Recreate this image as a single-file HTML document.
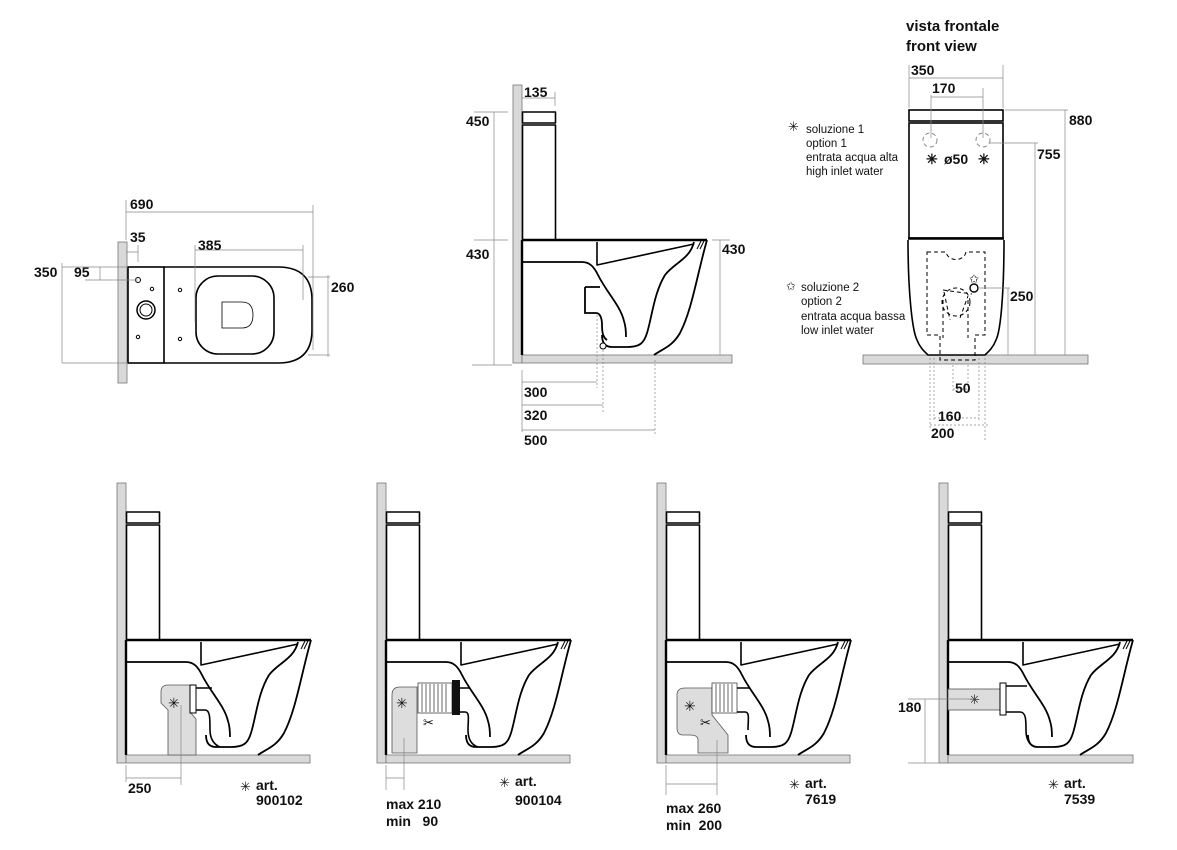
<!DOCTYPE html>
<html><head><meta charset="utf-8"><style>
html,body{margin:0;padding:0;background:#fff}
svg{display:block}
text{font-family:"Liberation Sans",Arial,sans-serif;font-weight:bold;font-size:14px;fill:#111}
.n{font-weight:normal;font-size:11.5px}
</style></head><body>
<svg width="1177" height="850" viewBox="0 0 1177 850" xmlns="http://www.w3.org/2000/svg">
<defs>
<g id="t" fill="none" stroke="#000" stroke-linejoin="round">
<rect x="0.5" y="-243" width="33" height="11" stroke-width="1.6" fill="#fff"/>
<rect x="0.5" y="-230" width="33" height="115" stroke-width="1.6" fill="#fff"/>
<line x1="0" y1="-115" x2="185" y2="-115" stroke-width="2.6"/>
<line x1="0" y1="-115" x2="0" y2="0" stroke-width="2.4"/>
<path d="M0,-93 L60,-93 C68,-93 72,-88 76,-80 C85,-62 98,-50 102,-34 C104,-28 104,-22 104,-18" stroke-width="1.8"/>
<path d="M75,-113 L75,-90 L172,-111" stroke-width="1.6"/>
<path d="M172,-113 C168,-96 152,-92 143,-80 C132,-62 130,-38 125,-22 C122,-12 118,-8 105,-8 L90,-8 C82,-8 80,-14 80,-20" stroke-width="1.8"/>
<path d="M185,-115 C175,-80 170,-45 158,-22 C150,-8 140,-6 132,0" stroke-width="1.8"/>
<path d="M179,-114 L175,-106 M182,-114 L178,-106" stroke-width="1"/>
</g>
</defs>

<!-- ============ top-left plan view ============ -->
<g>
<rect x="118" y="242" width="9" height="141" fill="#d9d9d9" stroke="#777" stroke-width="0.8"/>
<rect x="128" y="267" width="36" height="96" fill="#fff" stroke="#000" stroke-width="1.6"/>
<path d="M164,267 L278,267 Q312,267 312,300 L312,330 Q312,363 278,363 L164,363" fill="none" stroke="#000" stroke-width="1.6"/>
<rect x="196" y="276" width="78" height="78" rx="22" fill="none" stroke="#000" stroke-width="1.6"/>
<path d="M222,302 L242,302 Q253,302 253,315 Q253,328 242,328 L222,328 Z" fill="none" stroke="#000" stroke-width="0.8"/>
<circle cx="138" cy="280" r="2.5" fill="none" stroke="#000"/>
<circle cx="152" cy="289" r="1.7" fill="none" stroke="#000"/>
<circle cx="138" cy="337" r="1.7" fill="none" stroke="#000"/>
<circle cx="180" cy="290" r="1.7" fill="none" stroke="#000"/>
<circle cx="180" cy="339" r="1.7" fill="none" stroke="#000"/>
<circle cx="146" cy="310" r="9" fill="none" stroke="#000" stroke-width="1.5"/>
<circle cx="146" cy="310" r="6" fill="none" stroke="#000" stroke-width="1"/>
<g stroke="#888" stroke-width="0.7" fill="none">
<path d="M126,200 V240 M126,212 H313 M313,205 V350"/>
<path d="M138,245 V262 M126,252 H138"/>
<path d="M195,250 H303 M195,245 V322 M303,245 V300" />
<path d="M62,267 H128 M62,363 H128 M62,263 V363" />
<path d="M100,267 V280 M85,280 H138"/>
<path d="M308,277 H330 M308,355 H330 M328,275 V357"/>
</g>
<text x="130" y="209">690</text>
<text x="130" y="242">35</text>
<text x="198" y="250">385</text>
<text x="34" y="277">350</text>
<text x="74" y="277">95</text>
<text x="331" y="292">260</text>
</g>

<!-- ============ top middle side view ============ -->
<rect x="513" y="85" width="9" height="278" fill="#d9d9d9" stroke="#777" stroke-width="0.8"/>
<rect x="522" y="355" width="210" height="8" fill="#d9d9d9" stroke="#777" stroke-width="0.8"/>
<use href="#t" transform="translate(522,355)"/>
<path d="M585,287 L600,287 M585,287 L585,313 L596,313 C600,313 602,318 602,325 C602,335 604,338 607,340" fill="none" stroke="#000" stroke-width="1.8"/>
<circle cx="603" cy="346" r="3" fill="#fff" stroke="#000" stroke-width="1"/>
<g stroke="#888" stroke-width="0.7" fill="none">
<path d="M522,98 H555 M555,92 V106"/>
<path d="M474,112 H508 M494,112 V365 M474,240 H508 M472,365 H512"/>
<path d="M712,240 H730 M720,240 V355"/>
<path d="M522,370 V432 M522,382 H597 M522,405 H603 M522,430 H655"/>
<path d="M597,315 V388" stroke-dasharray="2,2"/>
<path d="M603,350 V412" stroke-dasharray="2,2"/>
<path d="M655,360 V436" stroke-dasharray="2,2"/>
</g>
<text x="524" y="97">135</text>
<text x="466" y="126">450</text>
<text x="466" y="259">430</text>
<text x="722" y="254">430</text>
<text x="524" y="397">300</text>
<text x="524" y="420">320</text>
<text x="524" y="445">500</text>

<!-- ============ front view ============ -->
<text x="906" y="31" style="font-size:15px">vista frontale</text>
<text x="906" y="51" style="font-size:15px">front view</text>
<rect x="863" y="355" width="225" height="9" fill="#d9d9d9" stroke="#777" stroke-width="0.8"/>
<rect x="909" y="110" width="94" height="11" fill="#fff" stroke="#000" stroke-width="1.6"/>
<rect x="909" y="123" width="94" height="115" fill="#fff" stroke="#000" stroke-width="1.6"/>
<line x1="908" y1="238.5" x2="1004" y2="238.5" stroke="#000" stroke-width="2.5"/>
<path d="M908,240 C908,290 912,330 917,340 C920,348 925,352 928,355 L985,355 C988,352 993,348 996,340 C1001,330 1004,290 1004,240" fill="none" stroke="#000" stroke-width="1.6"/>
<g fill="none" stroke="#000" stroke-width="1" stroke-dasharray="4,3">
<circle cx="930" cy="140" r="7" stroke="#888"/>
<circle cx="983" cy="140" r="7" stroke="#888"/>
<path d="M927,252 L946,252 C948,262 964,262 966,252 L985,252 L985,335 L975,335 L975,360 L940,360 L940,335 L927,335 Z"/>
<circle cx="956" cy="302" r="14"/>
<path d="M943,290 L972,294 M944,292 L950,320 M960,318 L968,296"/>
<path d="M943,300 V338 M968,300 V338"/>
</g>
<circle cx="974" cy="288" r="4" fill="none" stroke="#000" stroke-width="1.4"/>
<text x="969" y="283" class="n" style="font-size:12px">✩</text>
<g stroke="#888" stroke-width="0.7" fill="none">
<path d="M909,65 V108 M1003,65 V108 M909,78 H1003"/>
<path d="M931,95 V138 M983,88 V138 M931,97 H983"/>
<path d="M1005,110 H1068 M1065,110 V355"/>
<path d="M990,143 H1038 M1035,143 V355"/>
<path d="M978,288 H1010 M1008,288 V355"/>
<path d="M930,358 V430 M985,358 V440 M934,358 V420 M979,358 V420 M953,365 V392 M968,365 V392 M953,389 H968 M934,418 H979 M930,425 H990" stroke-dasharray="2,2"/>
</g>
<text x="911" y="75">350</text>
<text x="932" y="93">170</text>
<text x="1069" y="125">880</text>
<text x="1037" y="159">755</text>
<text x="1010" y="301">250</text>
<text x="955" y="393">50</text>
<text x="938" y="421">160</text>
<text x="931" y="438">200</text>
<text x="926" y="164">✳</text>
<text x="944" y="164">ø50</text>
<text x="978" y="164">✳</text>
<text x="788" y="131" class="n" style="font-size:13px">✳</text>
<text x="806" y="133" class="n">soluzione 1</text>
<text x="806" y="147" class="n">option 1</text>
<text x="806" y="161" class="n">entrata acqua alta</text>
<text x="806" y="175" class="n">high inlet water</text>
<text x="786" y="290" class="n">✩</text>
<text x="801" y="291" class="n">soluzione 2</text>
<text x="801" y="305" class="n">option 2</text>
<text x="801" y="320" class="n">entrata acqua bassa</text>
<text x="801" y="334" class="n">low inlet water</text>

<!-- ============ bottom views ============ -->
<!-- V1 -->
<rect x="117" y="483" width="9" height="280" fill="#d9d9d9" stroke="#777" stroke-width="0.8"/>
<rect x="126" y="755" width="184" height="8" fill="#d9d9d9" stroke="#777" stroke-width="0.8"/>
<use href="#t" transform="translate(126,755)"/>
<path d="M42,0 L42,-45 L35,-52 L35,-63 Q35,-70 42,-70 L64,-70 L64,-43 L70,-36 L70,0 Z" transform="translate(126,755)" fill="#ddd" stroke="#555" stroke-width="0.8"/>
<rect x="190" y="685" width="6" height="28" fill="#fff" stroke="#000" stroke-width="1"/>
<path d="M196,688 L212,688 M196,710 L205,710 C210,710 210,718 210,730 C210,740 215,745 220,747" fill="none" stroke="#000" stroke-width="1.6"/>
<text x="168" y="708" class="n" style="font-size:14px">✳</text>
<g stroke="#888" stroke-width="0.7" fill="none"><path d="M126,765 V782 M126,778 H181 M181,705 V785" /></g>
<text x="128" y="793">250</text>
<text x="240" y="791" class="n" style="font-size:13px">✳</text>
<text x="256" y="790">art.</text>
<text x="256" y="805">900102</text>

<!-- V2 -->
<rect x="377" y="483" width="9" height="280" fill="#d9d9d9" stroke="#777" stroke-width="0.8"/>
<rect x="386" y="755" width="184" height="8" fill="#d9d9d9" stroke="#777" stroke-width="0.8"/>
<use href="#t" transform="translate(386,755)"/>
<path d="M392,753 L392,695 Q392,687 400,687 L417,687 L417,753 Z" fill="#ddd" stroke="#555" stroke-width="0.8"/>
<rect x="418" y="683" width="34" height="30" fill="#fff" stroke="#444" stroke-width="0.8"/>
<path d="M422,684V712 M426,684V712 M430,684V712 M434,684V712 M438,684V712 M442,684V712 M446,684V712" stroke="#444" stroke-width="0.8"/>
<rect x="452" y="680" width="8" height="35" fill="#111"/>
<path d="M460,688 L470,688 M460,712 L465,712 C470,712 468,720 468,730 C468,740 472,745 478,747" fill="none" stroke="#000" stroke-width="1.6"/>
<text x="423" y="727" class="n" style="font-size:13px">✂</text>
<text x="396" y="708" class="n" style="font-size:14px">✳</text>
<g stroke="#888" stroke-width="0.7" fill="none"><path d="M386,765 V790 M386,778 H404 M404,738 V790" /></g>
<text x="386" y="809">max 210</text>
<text x="386" y="826">min &#160;&#160;90</text>
<text x="499" y="787" class="n" style="font-size:13px">✳</text>
<text x="515" y="786">art.</text>
<text x="515" y="805">900104</text>

<!-- V3 -->
<rect x="657" y="483" width="9" height="280" fill="#d9d9d9" stroke="#777" stroke-width="0.8"/>
<rect x="666" y="755" width="184" height="8" fill="#d9d9d9" stroke="#777" stroke-width="0.8"/>
<use href="#t" transform="translate(666,755)"/>
<path d="M677,695 Q677,688 685,688 L712,688 L712,715 L728,735 L728,753 L698,753 L698,740 Q698,735 690,735 L683,735 Q677,735 677,728 Z" fill="#ddd" stroke="#555" stroke-width="0.8"/>
<rect x="712" y="683" width="25" height="30" fill="#fff" stroke="#444" stroke-width="0.8"/>
<path d="M716,684V712 M720,684V712 M724,684V712 M728,684V712 M732,684V712" stroke="#444" stroke-width="0.8"/>
<path d="M737,688 L750,688 M737,712 L745,712 C750,712 748,720 748,730" fill="none" stroke="#000" stroke-width="1.6"/>
<text x="700" y="727" class="n" style="font-size:13px">✂</text>
<text x="684" y="711" class="n" style="font-size:14px">✳</text>
<g stroke="#888" stroke-width="0.7" fill="none"><path d="M666,765 V795 M666,784 H717 M717,740 V795" /></g>
<text x="666" y="813">max 260</text>
<text x="666" y="830">min &#160;200</text>
<text x="789" y="789" class="n" style="font-size:13px">✳</text>
<text x="805" y="788">art.</text>
<text x="805" y="804">7619</text>

<!-- V4 -->
<rect x="939" y="483" width="9" height="280" fill="#d9d9d9" stroke="#777" stroke-width="0.8"/>
<rect x="948" y="755" width="185" height="8" fill="#d9d9d9" stroke="#777" stroke-width="0.8"/>
<use href="#t" transform="translate(948,755)"/>
<rect x="948" y="689" width="52" height="21" fill="#ddd" stroke="#555" stroke-width="0.8"/>
<path d="M1000,683 L1006,683 L1006,715 L1000,715 Z" fill="#fff" stroke="#000" stroke-width="1"/>
<path d="M1006,686 L1027,686 M1006,712 L1020,712 C1026,712 1026,720 1026,730 C1026,740 1030,745 1035,747" fill="none" stroke="#000" stroke-width="1.6"/>
<text x="969" y="704" class="n" style="font-size:13px">✳</text>
<g stroke="#888" stroke-width="0.7" fill="none"><path d="M908,699 H975 M925,699 V763 M908,763 H948"/></g>
<text x="898" y="712">180</text>
<text x="1048" y="789" class="n" style="font-size:13px">✳</text>
<text x="1064" y="788">art.</text>
<text x="1064" y="804">7539</text>
</svg>
</body></html>
